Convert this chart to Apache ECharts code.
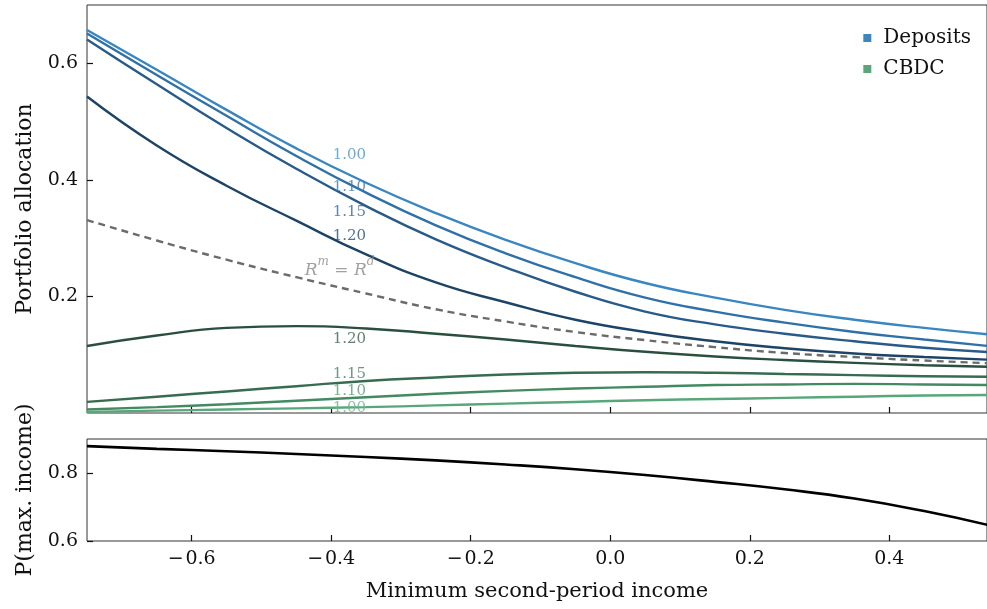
<!DOCTYPE html>
<html>
<head>
<meta charset="utf-8">
<script src="https://cdn.jsdelivr.net/npm/echarts@6/dist/echarts.min.js"></script>
<style>html,body{margin:0;padding:0;background:#fff}#c{width:987px;height:609px}</style>
</head>
<body>
<div id="c"></div>
<script>
// x values (minimum second-period income); last point lies just past the axis end and is clipped
const xs = [-0.75,-0.65,-0.55,-0.45,-0.35,-0.25,-0.15,-0.05,0.05,0.15,0.25,0.35,0.45,0.55];
// Deposits allocations for R = 1.00, 1.10, 1.15, 1.20
const dep100 = [0.657,0.589,0.520,0.454,0.395,0.343,0.297,0.257,0.223,0.198,0.177,0.160,0.146,0.134];
const dep110 = [0.651,0.580,0.510,0.441,0.378,0.322,0.274,0.233,0.198,0.174,0.155,0.139,0.126,0.114];
const dep115 = [0.641,0.564,0.489,0.419,0.355,0.298,0.250,0.208,0.174,0.152,0.136,0.123,0.112,0.104];
const dep120 = [0.543,0.459,0.390,0.330,0.272,0.224,0.190,0.160,0.139,0.123,0.111,0.102,0.096,0.091];
// CBDC allocations
const cb120 = [0.115,0.133,0.146,0.149,0.145,0.136,0.126,0.115,0.105,0.097,0.091,0.086,0.082,0.079];
const cb115 = [0.019,0.028,0.037,0.046,0.055,0.061,0.066,0.069,0.070,0.069,0.067,0.065,0.063,0.062];
const cb110 = [0.006,0.010,0.015,0.021,0.027,0.033,0.038,0.042,0.045,0.048,0.049,0.050,0.049,0.048];
const cb100 = [0.002,0.004,0.006,0.008,0.010,0.013,0.016,0.019,0.022,0.024,0.026,0.028,0.030,0.031];
// R^m = R^d threshold
const equalRate = [0.331,0.296,0.263,0.233,0.205,0.178,0.157,0.139,0.125,0.113,0.103,0.096,0.090,0.085];
// P(max. income)
const pMax = [0.879,0.871,0.864,0.856,0.847,0.837,0.825,0.811,0.794,0.774,0.752,0.725,0.688,0.643];

const xTicks = [-0.6,-0.4,-0.2,0.0,0.2,0.4];
const yTicksTop = [0.2,0.4,0.6];
const yTicksBottom = [0.6,0.8];

// curve labels
const labelText = ['1.00','1.10','1.15','1.20','1.20','1.15','1.10','1.00'];
const labelX = [-0.374,-0.374,-0.374,-0.374,-0.374,-0.374,-0.374,-0.374];
const labelY = [0.442,0.387,0.345,0.303,0.127,0.067,0.038,0.009];
const eqLabelX = -0.388, eqLabelY = 0.250;

const depColors = ['#3a86c1','#2f71a6','#285b88','#1d4464'];
const cbColors = ['#2b4f3f','#376c51','#438a62','#58a77b'];
const labelColors = ['#4b93cb','#3a7cb0','#356795','#274f70','#3b5f4f','#4a7d62','#5a9a73','#6cb48a'];

const FONT = 'DejaVu Serif';
const pair = arr => xs.map((x,i)=>[x,arr[i]]);
const fmt = v => (v < 0 ? '\u2212\u200a' + Math.abs(v).toFixed(1) : v.toFixed(1));

function lineSeries(name, arr, color, xi, width, dashed){
  return {name, type:'line', xAxisIndex:xi, yAxisIndex:xi, data:pair(arr), smooth:true,
    showSymbol:false, symbol:'none', silent:true, z:3, clip:true,
    lineStyle:{color, width:width||2.4, type: dashed ? [7,5] : 'solid'}, itemStyle:{color}};
}

const series = [
  lineSeries('d100', dep100, depColors[0], 0),
  lineSeries('d110', dep110, depColors[1], 0),
  lineSeries('d115', dep115, depColors[2], 0),
  lineSeries('d120', dep120, depColors[3], 0),
  lineSeries('c120', cb120, cbColors[0], 0),
  lineSeries('c115', cb115, cbColors[1], 0),
  lineSeries('c110', cb110, cbColors[2], 0),
  lineSeries('c100', cb100, cbColors[3], 0),
  lineSeries('eq', equalRate, '#6b6b6b', 0, 2.4, true),
  lineSeries('pmax', pMax, '#000000', 1, 2.6),
  {name:'Deposits', type:'line', data:[], itemStyle:{color:'#3a86c1'}, lineStyle:{color:'#3a86c1'}},
  {name:'CBDC', type:'line', data:[], itemStyle:{color:'#58a77b'}, lineStyle:{color:'#58a77b'}},
  {name:'labels', type:'scatter', xAxisIndex:0, yAxisIndex:0, symbolSize:0, silent:true, z:10,
    data: labelText.map((t,i)=>({value:[labelX[i],labelY[i]], name:t,
      label:{show:true, position:'inside', formatter:t, color:labelColors[i], fontFamily:FONT, fontSize:15}}))},
  {name:'eqlabel', type:'scatter', xAxisIndex:0, yAxisIndex:0, symbolSize:0, silent:true, z:10,
    data:[{value:[eqLabelX,eqLabelY], label:{show:true, position:'inside',
      formatter:'{i|R}{s|m}{n| = }{i|R}{s|d}',
      rich:{i:{fontFamily:FONT, fontStyle:'italic', fontSize:17, color:'#8a8a8a', lineHeight:23, verticalAlign:'bottom'},
            s:{fontFamily:FONT, fontStyle:'italic', fontSize:12, color:'#8a8a8a', lineHeight:23, verticalAlign:'top'},
            n:{fontFamily:FONT, fontSize:17, color:'#8a8a8a', lineHeight:23, verticalAlign:'bottom'}}}}]}
];

const axisCommonX = {type:'value', min:-0.75, max:0.54, splitLine:{show:false}, axisLine:{show:false, onZero:false},
  axisTick:{show:true, inside:true, length:6, customValues:xTicks, lineStyle:{color:'#111', width:1.2}}};
const chart = echarts.init(document.getElementById('c'), null, {renderer:'canvas'});
chart.setOption({
  animation:false,
  backgroundColor:'#fff',
  grid:[
    {left:87, right:-1, top:5, height:408, show:true, borderColor:'#333', borderWidth:1, backgroundColor:'transparent'},
    {left:87, right:-1, top:439, height:102, show:true, borderColor:'#333', borderWidth:1, backgroundColor:'transparent'}
  ],
  legend:{data:[{name:'Deposits', icon:'rect'},{name:'CBDC', icon:'rect'}], orient:'vertical',
    right:11, top:23, itemWidth:8, itemHeight:8, itemGap:11,
    textStyle:{fontFamily:FONT, fontSize:20, color:'#111', padding:[0,0,0,7]}},
  xAxis:[
    Object.assign({gridIndex:0, axisLabel:{show:false}}, axisCommonX),
    Object.assign({gridIndex:1, name:'Minimum second-period income', nameLocation:'middle', nameGap:40,
      nameTextStyle:{fontFamily:FONT, fontSize:21, color:'#111'},
      axisLabel:{show:true, customValues:xTicks, formatter:fmt, margin:9, fontFamily:FONT, fontSize:19, color:'#111'}}, axisCommonX)
  ],
  yAxis:[
    {type:'value', gridIndex:0, min:0, max:0.7, splitLine:{show:false}, axisLine:{show:false, onZero:false},
     name:'Portfolio allocation', nameLocation:'middle', nameGap:51,
     nameTextStyle:{fontFamily:FONT, fontSize:22, color:'#111'},
     axisTick:{show:true, inside:true, length:6, customValues:yTicksTop, lineStyle:{color:'#111', width:1.2}},
     axisLabel:{customValues:yTicksTop, formatter:v=>v.toFixed(1), margin:9, fontFamily:FONT, fontSize:19, color:'#111'}},
    {type:'value', gridIndex:1, min:0.6, max:0.9, splitLine:{show:false}, axisLine:{show:false, onZero:false},
     name:'P(max. income)', nameLocation:'middle', nameGap:51,
     nameTextStyle:{fontFamily:FONT, fontSize:22, color:'#111'},
     axisTick:{show:true, inside:true, length:6, customValues:yTicksBottom, lineStyle:{color:'#111', width:1.2}},
     axisLabel:{customValues:yTicksBottom, formatter:v=>v.toFixed(1), margin:9, fontFamily:FONT, fontSize:19, color:'#111'}}
  ],
  series
});
</script>
</body>
</html>
